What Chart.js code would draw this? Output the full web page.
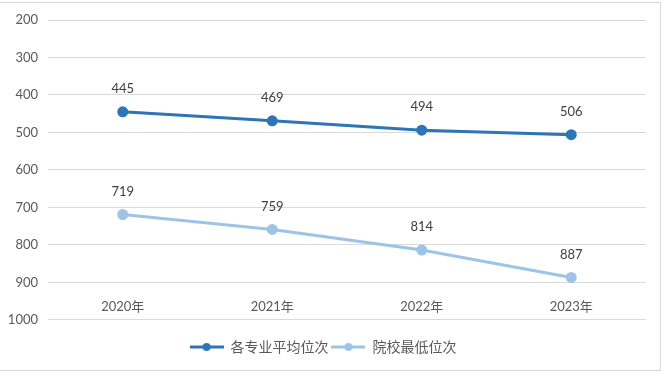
<!DOCTYPE html>
<html>
<head>
<meta charset="utf-8">
<script src="https://cdn.jsdelivr.net/npm/chart.js@4.4.1/dist/chart.umd.min.js"></script>
<style>
  html,body{margin:0;padding:0;background:#fff;}
  #wrap{position:relative;width:665px;height:377px;overflow:hidden;}
  #frame{position:absolute;left:-2px;top:2px;width:663px;height:369px;border:1px solid #d9d9d9;box-sizing:border-box;pointer-events:none;}
  canvas{position:absolute;left:0;top:0;}
</style>
</head>
<body>
<div id="wrap">
  <canvas id="chart" width="665" height="377"></canvas>
  <div id="frame"></div>
</div>
<script>
'use strict';

const years = ['2020年', '2021年', '2022年', '2023年'];
const avgRank = [445, 469, 494, 506];
const minRank = [719, 759, 814, 887];
const seriesNames = ['各专业平均位次', '院校最低位次'];
const yTicks = [200, 300, 400, 500, 600, 700, 800, 900, 1000];

const FONT = "'Lato', 'Noto Sans CJK SC', sans-serif";
const DARK = '#2e75b6', LIGHT = '#9dc3e6';

// legend swatch: short line with a dot in the middle
function swatch(color){
  const c = document.createElement('canvas');
  c.width = 34; c.height = 10;
  const g = c.getContext('2d');
  g.strokeStyle = color; g.lineWidth = 3;
  g.beginPath(); g.moveTo(0, 5); g.lineTo(34, 5); g.stroke();
  g.fillStyle = color;
  g.beginPath(); g.arc(17, 5, 4, 0, Math.PI*2); g.fill();
  return c;
}

const valueLabels = {
  id: 'valueLabels',
  afterDatasetsDraw(chart){
    const ctx = chart.ctx;
    ctx.save();
    ctx.font = '13px ' + FONT;
    ctx.fillStyle = '#404040';
    ctx.textAlign = 'center';
    ctx.textBaseline = 'middle';
    chart.data.datasets.forEach((ds, i) => {
      chart.getDatasetMeta(i).data.forEach((pt, j) => {
        ctx.fillText(String(ds.data[j]), pt.x, pt.y - 23);
      });
    });
    ctx.restore();
  }
};

new Chart(document.getElementById('chart'), {
  type: 'line',
  data: {
    labels: years,
    datasets: [
      {label: seriesNames[0], data: avgRank, borderColor: DARK, backgroundColor: DARK, borderWidth: 3, pointRadius: 4, pointHoverRadius: 4, pointStyle: 'circle', tension: 0},
      {label: seriesNames[1], data: minRank, borderColor: LIGHT, backgroundColor: LIGHT, borderWidth: 3, pointRadius: 4, pointHoverRadius: 4, pointStyle: 'circle', tension: 0}
    ]
  },
  options: {
    responsive: false,
    animation: false,
    layout: {padding: {left: 0, right: 19, top: 20, bottom: 13}},
    plugins: {
      tooltip: {enabled: false},
      legend: {
        position: 'bottom',
        // blank title only used to push the legend row down
        title: {display: true, text: ' ', font: {size: 1}, padding: {top: 16, bottom: 0}},
        labels: {
          usePointStyle: true,
          pointStyleWidth: 34,
          padding: 3,
          color: '#595959',
          font: {family: FONT, size: 14},
          generateLabels: chart => chart.data.datasets.map((ds, i) => ({
            text: ds.label, pointStyle: swatch(ds.borderColor), fillStyle: ds.borderColor,
            strokeStyle: ds.borderColor, lineWidth: 0, datasetIndex: i, fontColor: '#595959'
          }))
        }
      }
    },
    scales: {
      y: {
        reverse: true, min: 200, max: 1000,
        afterBuildTicks: s => { s.ticks = yTicks.map(v => ({value: v})); },
        afterFit: s => { s.width = 48; },
        grid: {color: '#d9d9d9', drawTicks: false},
        border: {display: false},
        ticks: {padding: 10, color: '#595959', font: {family: FONT, size: 13}, callback: v => String(v)}
      },
      x: {
        position: {y: 900},
        offset: true,
        grid: {display: false},
        border: {display: false},
        ticks: {padding: 9, color: '#595959', font: {family: FONT, size: 13}}
      }
    }
  },
  plugins: [valueLabels]
});
</script>
</body>
</html>
